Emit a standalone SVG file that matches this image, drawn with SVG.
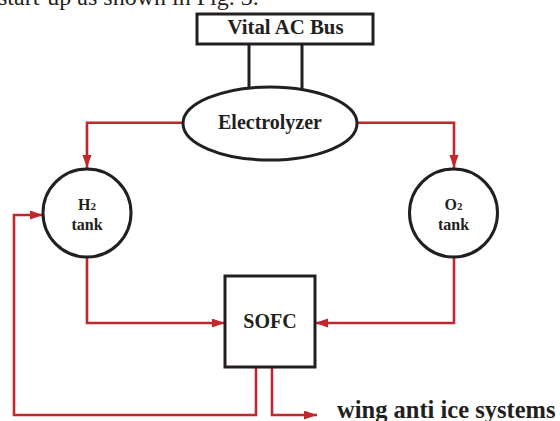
<svg xmlns="http://www.w3.org/2000/svg" width="560" height="421" viewBox="0 0 560 421">
<defs>
<marker id="arr" markerWidth="14" markerHeight="10" refX="13" refY="4.5" orient="auto" markerUnits="userSpaceOnUse">
<path d="M0,0 L13,4.5 L0,9 z" fill="#c1272d"/>
</marker>
<style>
.shape{fill:#fff;stroke:#231f20;stroke-width:3}
.blk{fill:none;stroke:#231f20;stroke-width:3}
.red{fill:none;stroke:#c1272d;stroke-width:2.6;stroke-linejoin:miter}
.lbl{font-family:"Liberation Serif","Times New Roman",serif;font-weight:bold;fill:#231f20;text-anchor:middle}
</style>
</defs>
<rect width="560" height="421" fill="#fff"/>
<text x="-2" y="4.5" font-family="'Liberation Serif','Times New Roman',serif" font-size="24" fill="#231f20">start-up as shown in Fig. 3.</text>
<g id="connectors">
<line class="blk" x1="249" y1="43" x2="249" y2="89"/>
<line class="blk" x1="302" y1="43" x2="302" y2="89"/>
<polyline class="red" points="183,122.7 87,122.7 87,168" marker-end="url(#arr)"/>
<polyline class="red" points="357,122.7 454,122.7 454,168" marker-end="url(#arr)"/>
<polyline class="red" points="87,257 87,323 225,323" marker-end="url(#arr)"/>
<polyline class="red" points="454,257 454,323 315,323" marker-end="url(#arr)"/>
<polyline class="red" points="256,367 256,415 14,415 14,215 43,215" marker-end="url(#arr)"/>
<polyline class="red" points="272,367 272,415 317,415" marker-end="url(#arr)"/>
</g>
<g id="vital-ac-bus">
<rect class="shape" x="197" y="14" width="176" height="30"/>
<text class="lbl" x="285.5" y="34" font-size="20" textLength="116" lengthAdjust="spacingAndGlyphs">Vital AC Bus</text>
</g>
<g id="electrolyzer">
<ellipse class="shape" cx="270" cy="123.5" rx="87" ry="36.5"/>
<text class="lbl" x="270" y="128.5" font-size="20">Electrolyzer</text>
</g>
<g id="h2-tank">
<circle class="shape" cx="87" cy="213" r="44"/>
<text class="lbl" x="87" y="210" font-size="16">H<tspan font-size="11">2</tspan></text>
<text class="lbl" x="87" y="229.5" font-size="16">tank</text>
</g>
<g id="o2-tank">
<circle class="shape" cx="453.5" cy="213" r="44"/>
<text class="lbl" x="453.5" y="210" font-size="16">O<tspan font-size="11">2</tspan></text>
<text class="lbl" x="453.5" y="229.5" font-size="16">tank</text>
</g>
<g id="sofc">
<rect class="shape" x="225" y="276" width="90" height="91"/>
<text class="lbl" x="270" y="328" font-size="20">SOFC</text>
</g>
<g id="wing-anti-ice">
<text x="337" y="418" font-family="'Liberation Serif','Times New Roman',serif" font-weight="bold" font-size="24.5" fill="#231f20">wing anti ice systems</text>
</g>
</svg>
